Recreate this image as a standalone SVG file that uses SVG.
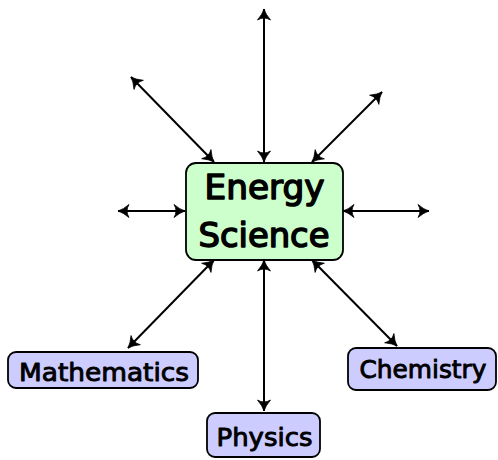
<svg xmlns="http://www.w3.org/2000/svg" width="498" height="460" viewBox="0 0 498 460">
<style>
.box{stroke:#000;stroke-width:1.8}
.g{fill:#ccffcc}
.b{fill:#ccccff}
.t{font-family:"DejaVu Sans","Liberation Sans",sans-serif;fill:#000;stroke:#000;stroke-linejoin:round;text-anchor:middle}
.L{font-size:33px;stroke-width:1.5}
.S{font-size:24px;stroke-width:0.9}
.c{stroke:#000;stroke-width:2;fill:none;marker-start:url(#ah);marker-end:url(#ah)}
</style>
<defs>
<marker id="ah" viewBox="-12 -8 14 16" refX="0" refY="0" markerWidth="14" markerHeight="16" markerUnits="userSpaceOnUse" orient="auto-start-reverse">
<path d="M-11,-6.5 Q-5,-1.5 0,0 Q-5,1.5 -11,6.5 Q-7,0 -11,-6.5 Z" fill="#000" stroke="#000" stroke-width="0.8" stroke-linejoin="round"/>
</marker>
</defs>
<rect width="498" height="460" fill="#fff"/>
<g id="connectors">
<line class="c" x1="264" y1="162" x2="264" y2="9"/>
<line class="c" x1="214" y1="162" x2="131" y2="77"/>
<line class="c" x1="312" y1="162" x2="382" y2="92"/>
<line class="c" x1="185" y1="211" x2="118" y2="211"/>
<line class="c" x1="343" y1="211" x2="429" y2="211"/>
<line class="c" x1="214" y1="260" x2="128" y2="348"/>
<line class="c" x1="264" y1="260" x2="264" y2="411"/>
<line class="c" x1="312" y1="260" x2="397" y2="346"/>
</g>
<g id="energy">
<rect class="box g" x="186" y="163" width="157" height="97" rx="10"/>
<text class="t L" x="264.5" y="199" textLength="120" lengthAdjust="spacingAndGlyphs">Energy</text>
<text class="t L" x="264" y="247" textLength="131" lengthAdjust="spacingAndGlyphs">Science</text>
</g>
<g id="mathematics">
<rect class="box b" x="8" y="352" width="190" height="36" rx="8"/>
<text class="t S" x="104" y="381" textLength="170" lengthAdjust="spacingAndGlyphs">Mathematics</text>
</g>
<g id="physics">
<rect class="box b" x="207" y="413" width="113" height="44" rx="8"/>
<text class="t S" x="264.5" y="446" textLength="96" lengthAdjust="spacingAndGlyphs">Physics</text>
</g>
<g id="chemistry">
<rect class="box b" x="348" y="348" width="148" height="42" rx="8"/>
<text class="t S" x="423" y="378" textLength="127" lengthAdjust="spacingAndGlyphs">Chemistry</text>
</g>
</svg>
